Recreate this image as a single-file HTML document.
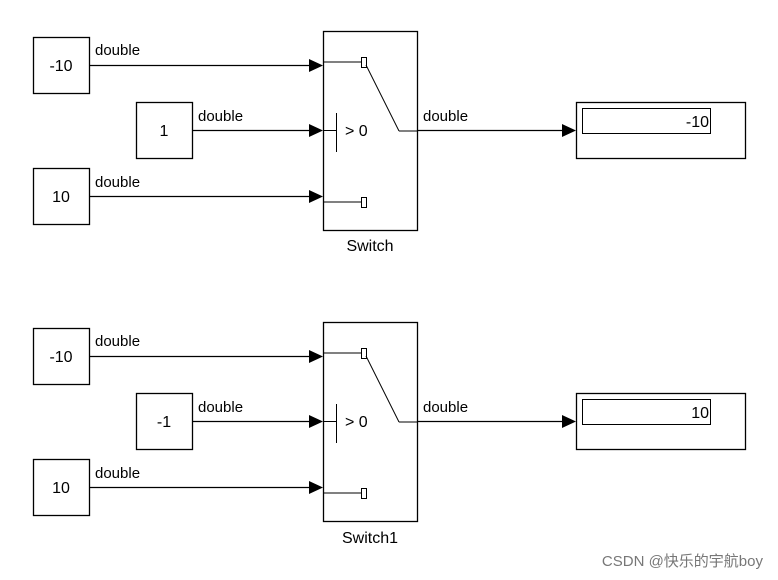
<!DOCTYPE html>
<html><head><style>
html,body{margin:0;padding:0;background:#fff;}
svg{display:block;font-family:"Liberation Sans",Arial,sans-serif;}
</style></head><body>
<svg width="778" height="580" viewBox="0 0 778 580" xmlns="http://www.w3.org/2000/svg">
<defs>
<g id="blk">
  <rect x="33.5" y="37.5" width="56" height="56" fill="#fff" stroke="#000" stroke-width="1.3"/>
  <rect x="136.5" y="102.5" width="56" height="56" fill="#fff" stroke="#000" stroke-width="1.3"/>
  <rect x="33.5" y="168.5" width="56" height="56" fill="#fff" stroke="#000" stroke-width="1.3"/>
  <g stroke="#000" stroke-width="1.2" fill="none">
    <line x1="90" y1="65.5" x2="312" y2="65.5"/>
    <line x1="193" y1="130.5" x2="312" y2="130.5"/>
    <line x1="90" y1="196.5" x2="312" y2="196.5"/>
    <line x1="417" y1="130.5" x2="564" y2="130.5"/>
  </g>
  <g fill="#000">
    <polygon points="309,59 323,65.5 309,72"/>
    <polygon points="309,124 323,130.5 309,137"/>
    <polygon points="309,190 323,196.5 309,203"/>
    <polygon points="562,124 576,130.5 562,137"/>
  </g>
  <g font-size="15" fill="#000">
    <text x="95" y="55">double</text>
    <text x="198" y="121">double</text>
    <text x="95" y="187">double</text>
    <text x="423" y="121">double</text>
  </g>
  <rect x="323.5" y="31.5" width="94" height="199" fill="#fff" stroke="#000" stroke-width="1.3"/>
  <g stroke="#000" stroke-width="1" fill="none">
    <line x1="323" y1="62" x2="361" y2="62"/>
    <rect x="361.5" y="57.5" width="5" height="10" fill="#fff"/>
    <line x1="366" y1="65" x2="399" y2="131"/>
    <line x1="399" y1="131" x2="417" y2="131"/>
    <line x1="323" y1="130.5" x2="336" y2="130.5"/>
    <line x1="336.5" y1="113" x2="336.5" y2="152"/>
    <line x1="323" y1="202" x2="361" y2="202"/>
    <rect x="361.5" y="197.5" width="5" height="10" fill="#fff"/>
  </g>
  <text x="345" y="136" font-size="16">&gt; 0</text>
  <rect x="576.5" y="102.5" width="169" height="56" fill="#fff" stroke="#000" stroke-width="1.3"/>
  <rect x="582.5" y="108.5" width="128" height="25" fill="#fff" stroke="#000" stroke-width="1"/>
</g>
</defs>
<use href="#blk"/>
<use href="#blk" transform="translate(0,291)"/>
<g font-size="16" text-anchor="middle" fill="#000">
  <text x="61" y="71">-10</text>
  <text x="164" y="136">1</text>
  <text x="61" y="202">10</text>
  <text x="61" y="362">-10</text>
  <text x="164" y="427">-1</text>
  <text x="61" y="493">10</text>
</g>
<g font-size="16" text-anchor="end" fill="#000">
  <text x="709" y="127">-10</text>
  <text x="709" y="418">10</text>
</g>
<g font-size="16" text-anchor="middle" fill="#000">
  <text x="370" y="251">Switch</text>
  <text x="370" y="543">Switch1</text>
</g>
<text x="763" y="566" font-size="15" text-anchor="end" fill="#777" font-family="Liberation Sans,'Noto Sans CJK SC',sans-serif">CSDN @快乐的宇航boy</text>
</svg>
</body></html>
